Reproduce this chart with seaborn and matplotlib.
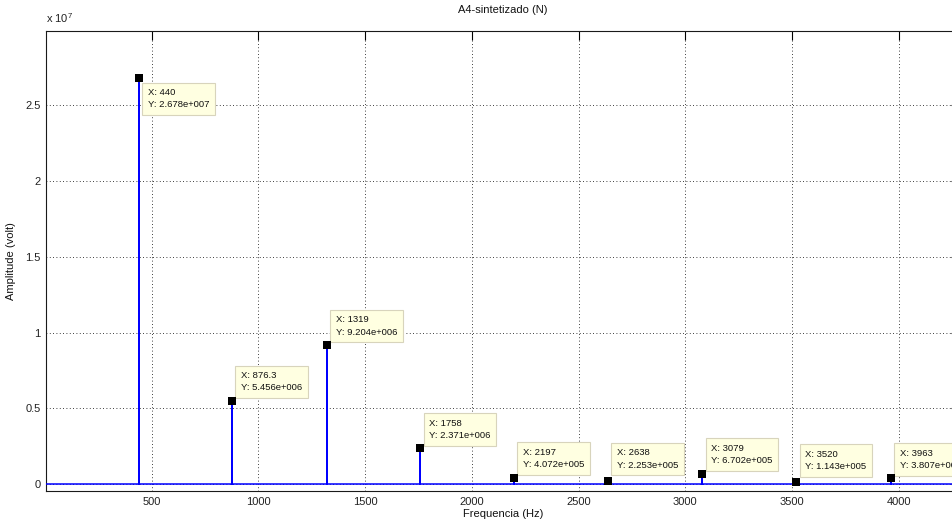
import numpy as np
import pandas as pd
import matplotlib
matplotlib.use("Agg")
import matplotlib.pyplot as plt
import seaborn as sns

# Harmonic peaks of the synthesised A4 note (frequency in Hz, amplitude in volt)
peak_freqs = [440, 876.3, 1319, 1758, 2197, 2638, 3079, 3520, 3963]
peak_amps = [2.678e7, 5.456e6, 9.204e6, 2.371e6, 4.072e5, 2.253e5, 6.702e5, 1.143e5, 3.807e5]

x_ticks = [500, 1000, 1500, 2000, 2500, 3000, 3500, 4000]
x_tick_labels = ["500", "1000", "1500", "2000", "2500", "3000", "3500", "4000"]
y_ticks = [0, 0.5e7, 1.0e7, 1.5e7, 2.0e7, 2.5e7]
y_tick_labels = ["0", "0.5", "1", "1.5", "2", "2.5"]

title = "A4-sintetizado (N)"
x_label = "Frequencia (Hz)"
y_label = "Amplitude (volt)"

x_min, x_max = 4.7, 4287
y_min, y_max = -4.6e5, 2.99e7

sns.set_theme(style="white")
plt.rcParams["font.family"] = ["Liberation Sans", "DejaVu Sans"]
plt.rcParams["mathtext.fontset"] = "custom"
plt.rcParams["mathtext.rm"] = "Liberation Sans"

# Spectrum polyline: flat baseline with a vertical spike at every peak
xs, ys = [x_min], [0.0]
for f, a in zip(peak_freqs, peak_amps):
    xs += [f, f, f]
    ys += [0.0, a, 0.0]
xs.append(x_max)
ys.append(0.0)
spectrum = pd.DataFrame({"freq": xs, "amp": ys})

fig = plt.figure(figsize=(9.52, 5.2), dpi=100)
fig.patch.set_facecolor("white")
ax = fig.add_axes([46 / 952, 29 / 520, 914 / 952, 460 / 520])

sns.lineplot(data=spectrum, x="freq", y="amp", ax=ax, color="#0000ff",
             linewidth=1.1, estimator=None, sort=False, zorder=3)

ax.set_xlim(x_min, x_max)
ax.set_ylim(y_min, y_max)
ax.set_xticks(x_ticks)
ax.set_xticklabels(x_tick_labels)
ax.set_yticks(y_ticks)
ax.set_yticklabels(y_tick_labels)

ax.grid(True, which="major", color="black", linestyle=(0, (1, 3)), linewidth=0.6)
ax.tick_params(axis="both", direction="in", length=6.5, width=0.8, color="black",
               labelsize=8, labelcolor="#222222", top=True, right=True, pad=4)
for side in ["left", "bottom", "top", "right"]:
    ax.spines[side].set_color("#1a1a1a")
    ax.spines[side].set_linewidth(0.8)

ax.set_title(title, fontsize=8, color="#111111", pad=13)
ax.set_xlabel(x_label, fontsize=8, color="#111111", labelpad=2)
ax.set_ylabel(y_label, fontsize=8, color="#111111")
ax.yaxis.set_label_coords(-30 / 914, 0.5)
ax.text(0.0, 1.012, r"x 10$^{7}$", transform=ax.transAxes, fontsize=8,
        color="#222222", ha="left", va="bottom")

# MATLAB-style data tips on each peak
def fmt_exp(v):
    mant, exp = f"{v:.3e}".split("e")
    sign = exp[0]
    return f"{mant}e{sign}{int(exp[1:]):03d}"

tip_offsets = [(9, -10), (9, 9), (9, 8), (9, 8), (9, 9), (9, 11), (9, 9), (9, 11), (9, 8)]
ax.scatter(peak_freqs, peak_amps, marker="s", s=30, c="black", linewidths=0,
           zorder=7, clip_on=False)
for (f, a), (dx, dy) in zip(zip(peak_freqs, peak_amps), tip_offsets):
    ax.annotate(f"X: {f:g}\nY: {fmt_exp(a)}", xy=(f, a), xytext=(dx, dy),
                textcoords="offset pixels", ha="left",
                va="top" if dy < 0 else "bottom", fontsize=6.8, color="#111111",
                linespacing=1.45, zorder=6, annotation_clip=False,
                bbox=dict(boxstyle="square,pad=0.6", facecolor="#ffffe1",
                          edgecolor="#d8d4bc", linewidth=0.8))

fig.savefig("out.png", dpi=100)
